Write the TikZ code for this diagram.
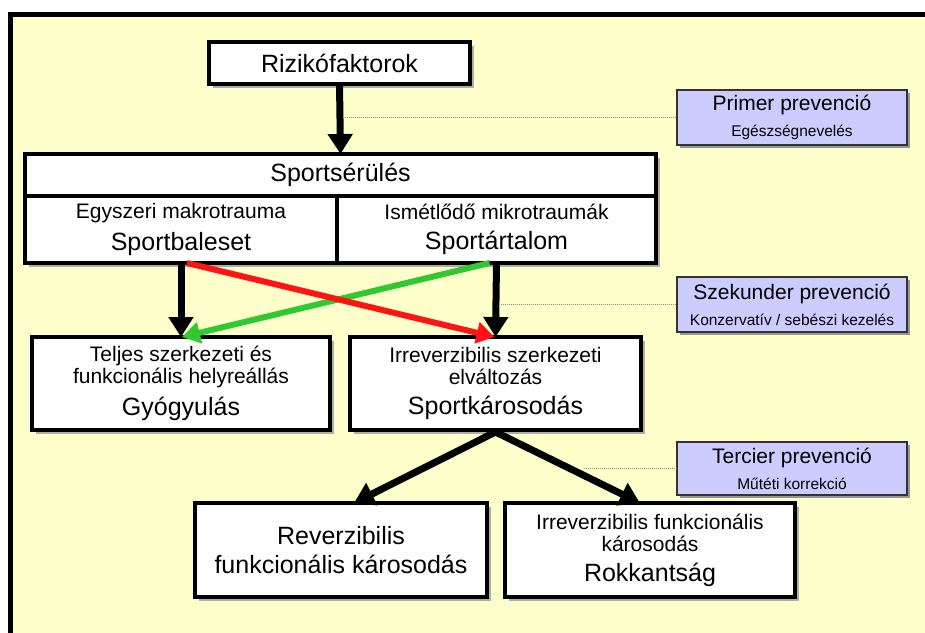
\documentclass[tikz,border=0pt]{standalone}
\usepackage{fontspec}
\setmainfont{Liberation Sans}
\usetikzlibrary{arrows.meta,shadows}
\definecolor{bgyellow}{RGB}{255,255,204}
\definecolor{lav}{RGB}{204,204,255}
\definecolor{myred}{RGB}{255,20,20}
\definecolor{mygreen}{RGB}{50,200,50}
\newcommand{\fbig}{\fontsize{25}{29}\selectfont}
\newcommand{\fmid}{\fontsize{21}{22}\selectfont}
\newcommand{\fpt}{\fontsize{21}{24}\selectfont}
\newcommand{\fps}{\fontsize{15.5}{18}\selectfont}
\begin{document}
\begin{tikzpicture}[x=1pt,y=-1pt,
 mainbox/.style={draw=black, line width=4.5pt, fill=white, inner sep=0pt, outer sep=0pt, align=center, anchor=north west},
 shad/.style={drop shadow={shadow xshift=4pt,shadow yshift=-4pt,fill=black!35,opacity=0.9}},
 prevbox/.style={draw=black!80, line width=1.3pt, fill=lav, inner sep=0pt, outer sep=0pt, align=center, anchor=north west, minimum width=230pt, font=\fpt, drop shadow={shadow xshift=3pt,shadow yshift=-3pt,fill=black!45,opacity=0.9}},
 barrow/.style={line width=7pt, -{Triangle[length=20pt,width=24pt]}},
 varrow/.style={line width=7pt, line join=miter, {Triangle[length=20pt,width=24pt]}-{Triangle[length=20pt,width=24pt]}},
 carrow/.style={line width=6pt, -{Triangle[length=18pt,width=21pt]}},
 dotline/.style={draw=black!45, line width=0.7pt, dash pattern=on 1pt off 1pt}]

\useasboundingbox (0,0) rectangle (925,632);
\fill[white] (0,0) rectangle (925,632);
\begin{scope}
\clip (0,0) rectangle (925,632);
\draw[line width=5pt, fill=bgyellow] (10,14.5) rectangle (960,680);
\end{scope}

% top box
\node[mainbox, shad, minimum width=261pt, minimum height=42pt, font=\fbig] (riz) at (209,42) {Rizikófaktorok};

% compound box
\node[shad, fill=white, inner sep=0pt, outer sep=0pt, anchor=north west, minimum width=631pt, minimum height=109pt] (serbg) at (25,154) {};
\node[mainbox, minimum width=631pt, minimum height=42pt, font=\fbig] (ser) at (25,154) {Sportsérülés};
\node[mainbox, minimum width=312pt, minimum height=67pt, font=\fmid] (bal) at (25,196) {Egyszeri makrotrauma\\[8pt]\fbig Sportbaleset};
\node[mainbox, minimum width=319pt, minimum height=67pt, font=\fmid] (art) at (337,196) {Ismétlődő mikrotraumák\\[8pt]\fbig Sportártalom};

% middle boxes
\node[mainbox, shad, minimum width=298pt, minimum height=93pt, font=\fmid] (gyo) at (32,337) {Teljes szerkezeti és\\funkcionális helyreállás\\[8pt]\fbig Gyógyulás};
\node[mainbox, shad, minimum width=291pt, minimum height=93pt, font=\fmid] (spk) at (350,337) {Irreverzibilis szerkezeti\\elváltozás\\[8pt]\fbig Sportkárosodás};

% bottom boxes
\node[mainbox, shad, minimum width=292pt, minimum height=94pt, font=\fbig] (rev) at (195,503) {Reverzibilis\\funkcionális károsodás};
\node[mainbox, shad, minimum width=290pt, minimum height=94pt, font=\fmid] (rok) at (505,503) {Irreverzibilis funkcionális\\károsodás\\[8pt]\fbig Rokkantság};

% prevention boxes
\node[prevbox, minimum height=55pt] (prim) at (677,90) {Primer prevenció\\[2pt]\fps Egészségnevelés};
\node[prevbox, minimum height=55pt] (szek) at (677,277) {Szekunder prevenció\\[2pt]\fps Konzervatív / sebészi kezelés};
\node[prevbox, minimum height=53pt] (terc) at (677,442) {Tercier prevenció\\[2pt]\fps Műtéti korrekció};

% dotted leaders
\coordinate (p1) at (345,117.5);
\coordinate (p2) at (501,304.5);
\coordinate (p3) at (584,468.5);
\draw[dotline] (p1) -- (prim.west);
\draw[dotline] (p2) -- (szek.west);
\draw[dotline] (p3) -- (terc.west);

% arrows
\draw[barrow] (riz.south) -- (ser.north);
\draw[barrow] (bal.south) -- (gyo.north);
\draw[barrow] (art.south) -- (spk.north);
\draw[carrow, mygreen] ([xshift=-7pt]art.south) -- ([xshift=1pt]gyo.north);
\draw[carrow, myred] ([xshift=6pt]bal.south) -- ([xshift=-1pt]spk.north);
\draw[varrow] ([xshift=13pt]rev.north) -- ([yshift=-2pt]spk.south) -- ([xshift=-10pt]rok.north);
\end{tikzpicture}
\end{document}
